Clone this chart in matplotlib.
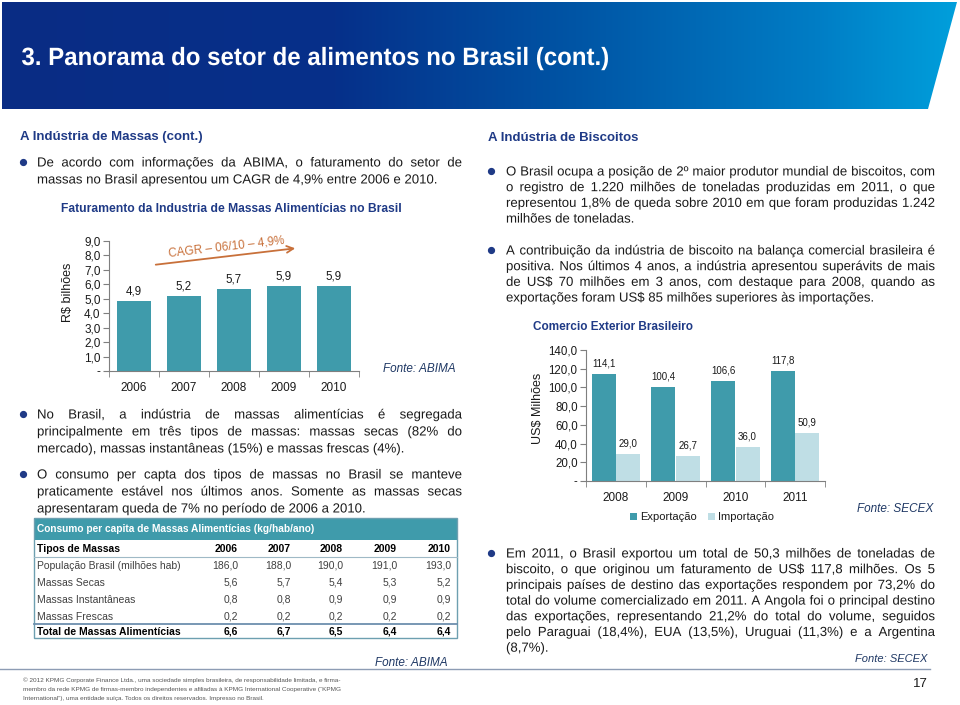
import numpy as np
import matplotlib
matplotlib.use("Agg")
import matplotlib.pyplot as plt
from matplotlib.patches import Polygon, Rectangle, PathPatch
from matplotlib.textpath import TextPath, text_to_path
from matplotlib.font_manager import FontProperties
from matplotlib.transforms import Affine2D

plt.rcParams['font.family'] = ['Liberation Sans', 'DejaVu Sans']

# ---------------- data ----------------
massas_years = ['2006', '2007', '2008', '2009', '2010']
massas_faturamento = [4.86, 5.16, 5.66, 5.86, 5.90]

comercio_years = ['2008', '2009', '2010', '2011']
exportacao = [114.1, 100.4, 106.6, 117.8]
importacao = [29.0, 26.7, 36.0, 50.9]

tabela_anos = ['2006', '2007', '2008', '2009', '2010']
tabela_rotulos = ['População Brasil (milhões hab)', 'Massas Secas',
                  'Massas Instantâneas', 'Massas Frescas']
populacao = [186.0, 188.0, 190.0, 191.0, 193.0]
massas_secas = [5.6, 5.7, 5.4, 5.3, 5.2]
massas_instantaneas = [0.8, 0.8, 0.9, 0.9, 0.9]
massas_frescas = [0.2, 0.2, 0.2, 0.2, 0.2]
total_massas = [6.6, 6.7, 6.5, 6.4, 6.4]

# ---------------- style ----------------
W, H = 960, 705
PX = 100 / 72.0
TEAL = '#3f9bab'
LIGHT = '#bfdee5'
NAVY = '#1f3a86'
FONTE = '#1f3864'
BODY = '#1a1a1a'
ORANGE = '#c8703a'
AXC = '#7f7f7f'


def fmt(v):
    return f"{v:.1f}".replace('.', ',')


def rect(x0, y0, x1, y1):
    return [x0 / W, 1 - y1 / H, (x1 - x0) / W, (y1 - y0) / H]


fig = plt.figure(figsize=(9.6, 7.05), dpi=100)
fig.patch.set_facecolor('white')
bg = fig.add_axes([0, 0, 1, 1])
bg.axis('off')

# ---------------- banner ----------------
stops = np.array([0.0, 0.35, 0.6, 0.85, 1.0])
cols = np.array([[10, 44, 132], [6, 48, 138], [0, 85, 165], [0, 125, 197], [0, 160, 220]]) / 255.0
g = np.linspace(0, 1, 600)
img = np.stack([np.interp(g, stops, cols[:, c]) for c in range(3)], axis=-1)[None, :, :]
im = bg.imshow(img, extent=[0, 960, 110, 2], aspect='auto', interpolation='bilinear', zorder=0)
bg.set_xlim(0, W)
bg.set_ylim(H, 0)
poly = Polygon([[2, 2], [957, 2], [928, 109], [2, 109]], closed=True,
               facecolor='none', edgecolor='none', transform=bg.transData)
bg.add_patch(poly)
im.set_clip_path(poly)

# condensed bold title drawn as a text path
tp = TextPath((0, 0), '3. Panorama do setor de alimentos no Brasil (cont.)', size=25,
              prop=FontProperties(family='Liberation Sans', weight='bold'))
ext = tp.get_extents()
sx = 586.0 / ext.width
tr = Affine2D().translate(-ext.x0, 0).scale(sx, -1.0).translate(22, 65)
bg.add_patch(PathPatch(tr.transform_path(tp), facecolor='white', edgecolor='none', lw=0, zorder=3))


# ---------------- text helpers ----------------
def boff(size):
    return 0.34 * size * PX


def txt(x, y, s, size, ha='left', **kw):
    return bg.text(x, y + boff(size), s, fontsize=size, ha=ha, va='baseline', **kw)


def path_text(s, x, ybase, fp, color):
    p = TextPath((0, 0), s, prop=fp)
    t = Affine2D().scale(PX, -PX).translate(x, ybase)
    bg.add_patch(PathPatch(t.transform_path(p), facecolor=color, edgecolor='none', lw=0, zorder=3))


def width_px(s, fp):
    w, _, _ = text_to_path.get_text_width_height_descent(s, fp, ismath=False)
    return w * PX


def body_line(t, x0, y, x1=None, size=9.5, color=BODY):
    fp = FontProperties(family='Liberation Sans', size=size)
    yb = y + boff(size)
    if x1 is None:
        path_text(t, x0, yb, fp, color)
        return
    words = t.split()
    widths = [width_px(w, fp) for w in words]
    gap = (x1 - x0 - sum(widths)) / max(len(words) - 1, 1)
    x = x0
    for w, wd in zip(words, widths):
        path_text(w, x, yb, fp, color)
        x += wd + gap


def para(lines, x0, x1, y0, dy, bullet_x, size=9.5):
    bg.plot([bullet_x], [y0], marker='o', ms=4.2, color=NAVY, mec=NAVY)
    for i, t in enumerate(lines):
        last = (i == len(lines) - 1)
        body_line(t, x0, y0 + i * dy, None if last else x1, size=size)


# ---------------- left column ----------------
txt(20, 136, 'A Indústria de Massas (cont.)', 9.5, fontweight='bold', color=NAVY)
para(['De acordo com informações da ABIMA, o faturamento do setor de',
      'massas no Brasil apresentou um CAGR de 4,9% entre 2006 e 2010.'],
     37, 462, 162, 17, 23)
txt(61, 208, 'Faturamento da Industria de Massas Alimentícias no Brasil', 8.7,
    fontweight='bold', color=NAVY)

para(['No Brasil, a indústria de massas alimentícias é segregada',
      'principalmente em três tipos de massas: massas secas (82% do',
      'mercado), massas instantâneas (15%) e massas frescas (4%).'],
     37, 462, 414, 17, 23)
para(['O consumo per capta dos tipos de massas no Brasil se manteve',
      'praticamente estável nos últimos anos. Somente as massas secas',
      'apresentaram queda de 7% no período de 2006 a 2010.'],
     37, 462, 474, 17, 23)

# left chart
ax1 = fig.add_axes(rect(109, 240.7, 359, 371))
x1 = np.arange(len(massas_years))
ax1.bar(x1, massas_faturamento, width=0.68, color=TEAL)
for i, v in enumerate(massas_faturamento):
    ax1.annotate(fmt(v), (x1[i], v), xytext=(0, 2.5), textcoords='offset points',
                 ha='center', va='bottom', fontsize=8.3, color=BODY)
ax1.set_xlim(-0.5, len(massas_years) - 0.5)
ax1.set_ylim(0, 9)
yt = np.arange(0, 10, 1)
ax1.set_yticks(yt, ['-' if v == 0 else fmt(v) for v in yt])
ax1.set_xticks(x1, massas_years)
ax1.set_xticks(np.arange(-0.5, len(massas_years), 1), minor=True)
ax1.tick_params(axis='y', length=4, color=AXC, labelsize=8.5, pad=2, labelcolor=BODY)
ax1.tick_params(axis='x', which='major', length=0, labelsize=8.5, pad=8, labelcolor=BODY)
ax1.tick_params(axis='x', which='minor', length=4, color=AXC)
for s in ['top', 'right']:
    ax1.spines[s].set_visible(False)
for s in ['left', 'bottom']:
    ax1.spines[s].set_color(AXC)
ax1.set_facecolor('none')
bg.text(68, 292, 'R$ bilhões', rotation=90, ha='center', va='center', fontsize=9, color=BODY)

bg.annotate('', xy=(298, 248), xytext=(153, 265),
            arrowprops=dict(arrowstyle='->', color=ORANGE, lw=1.3, mutation_scale=12))
bg.text(226, 247, 'CAGR – 06/10 – 4,9%', rotation=6.5, ha='center', va='center',
        color=ORANGE, fontsize=8.5, rotation_mode='anchor')
txt(383, 368, 'Fonte: ABIMA', 8.5, style='italic', color=FONTE)

# table
tx0, tx1 = 34, 457
bg.add_patch(Rectangle((tx0, 518), tx1 - tx0, 22, facecolor=TEAL, edgecolor='none', zorder=1))
bg.add_patch(Rectangle((tx0, 518), tx1 - tx0, 638 - 518, facecolor='none',
                       edgecolor='#6d9fb0', lw=1.0, zorder=2))
bg.plot([tx0, tx1], [556.5, 556.5], color='#9fb9c6', lw=0.8)
bg.plot([tx0, tx1], [623.5, 623.5], color='#6d8fae', lw=1.3)
txt(37, 529, 'Consumo per capita de Massas Alimentícias (kg/hab/ano)', 7.3, color='white',
    fontweight='bold')
col_r = [238, 291, 343, 397, 451]
row_y = [565, 582, 599, 616]
txt(37, 548, 'Tipos de Massas', 7.5, fontweight='bold', color='black')
for xr, a in zip(col_r, tabela_anos):
    txt(xr, 548, a, 7.5, ha='right', fontweight='bold', color='black')
rows = [populacao, massas_secas, massas_instantaneas, massas_frescas]
for yy, lab, vals in zip(row_y, tabela_rotulos, rows):
    txt(37, yy, lab, 7.5, color='#404040')
    for xr, v in zip(col_r, vals):
        txt(xr, yy, fmt(v), 7.5, ha='right', color='#404040')
txt(37, 631, 'Total de Massas Alimentícias', 7.5, fontweight='bold', color='black')
for xr, v in zip(col_r, total_massas):
    txt(xr, 631, fmt(v), 7.5, ha='right', fontweight='bold', color='black')
txt(375, 662, 'Fonte: ABIMA', 8.5, style='italic', color=FONTE)

# ---------------- right column ----------------
txt(488, 137, 'A Indústria de Biscoitos', 9.5, fontweight='bold', color=NAVY)
para(['O Brasil ocupa a posição de 2º maior produtor mundial de biscoitos, com',
      'o registro de 1.220 milhões de toneladas produzidas em 2011, o que',
      'representou 1,8% de queda sobre 2010 em que foram produzidas 1.242',
      'milhões de toneladas.'],
     506, 935, 171, 15.7, 491)
para(['A contribuição da indústria de biscoito na balança comercial brasileira é',
      'positiva. Nos últimos 4 anos, a indústria apresentou superávits de mais',
      'de US$ 70 milhões em 3 anos, com destaque para 2008, quando as',
      'exportações foram US$ 85 milhões superiores às importações.'],
     506, 935, 250, 15.7, 491)
txt(533, 326, 'Comercio Exterior Brasileiro', 8.5, fontweight='bold', color=NAVY)

ax2 = fig.add_axes(rect(586, 350, 825, 481))
x2 = np.arange(len(comercio_years))
ax2.bar(x2 - 0.205, exportacao, width=0.4, color=TEAL, label='Exportação')
ax2.bar(x2 + 0.205, importacao, width=0.4, color=LIGHT, label='Importação')
for i in range(len(comercio_years)):
    ax2.annotate(fmt(exportacao[i]), (x2[i] - 0.205, exportacao[i]), xytext=(0, 4),
                 textcoords='offset points', ha='center', va='bottom', fontsize=7, color=BODY)
    ax2.annotate(fmt(importacao[i]), (x2[i] + 0.205, importacao[i]), xytext=(0, 4),
                 textcoords='offset points', ha='center', va='bottom', fontsize=7, color=BODY)
ax2.set_xlim(-0.5, len(comercio_years) - 0.5)
ax2.set_ylim(0, 140)
yt2 = np.arange(0, 141, 20)
ax2.set_yticks(yt2, ['-' if v == 0 else fmt(v) for v in yt2])
ax2.set_xticks(x2, comercio_years)
ax2.set_xticks(np.arange(-0.5, len(comercio_years), 1), minor=True)
ax2.tick_params(axis='y', length=4, color=AXC, labelsize=8.3, pad=2, labelcolor=BODY)
ax2.tick_params(axis='x', which='major', length=0, labelsize=8.5, pad=8, labelcolor=BODY)
ax2.tick_params(axis='x', which='minor', length=4, color=AXC)
for s in ['top', 'right']:
    ax2.spines[s].set_visible(False)
for s in ['left', 'bottom']:
    ax2.spines[s].set_color(AXC)
ax2.set_facecolor('none')
ax2.legend(loc='center', bbox_to_anchor=(702 / W, 1 - 517 / H), bbox_transform=fig.transFigure,
           ncol=2, frameon=False, fontsize=8, handlelength=0.6, handleheight=0.6,
           handletextpad=0.3, columnspacing=1.0, labelcolor=BODY)
bg.text(538, 408, 'US$ Milhões', rotation=90, ha='center', va='center', fontsize=9, color=BODY)
txt(857, 508, 'Fonte: SECEX', 8.5, style='italic', color=FONTE)

para(['Em 2011, o Brasil exportou um total de 50,3 milhões de toneladas de',
      'biscoito, o que originou um faturamento de US$ 117,8 milhões. Os 5',
      'principais países de destino das exportações respondem por 73,2% do',
      'total do volume comercializado em 2011. A Angola foi o principal destino',
      'das exportações, representando 21,2% do total do volume, seguidos',
      'pelo Paraguai (18,4%), EUA (13,5%), Uruguai (11,3%) e a Argentina',
      '(8,7%).'],
     506, 935, 553, 15.7, 491)
txt(855, 658, 'Fonte: SECEX', 8, style='italic', color=FONTE)

# ---------------- footer ----------------
bg.plot([0, 930], [669, 669], color='#8d9cb4', lw=1.0)
foot = ['© 2012 KPMG Corporate Finance Ltda., uma sociedade simples brasileira, de responsabilidade limitada, e firma-',
        'membro da rede KPMG de firmas-membro independentes e afiliadas à KPMG International Cooperative (“KPMG',
        'International”), uma entidade suíça. Todos os direitos reservados. Impresso no Brasil.']
for i, t in enumerate(foot):
    txt(23, 680 + 9 * i, t, 4.6, color='#555555')
txt(928, 683, '17', 9.5, ha='right', color=BODY)

fig.savefig('out.png', dpi=100)
